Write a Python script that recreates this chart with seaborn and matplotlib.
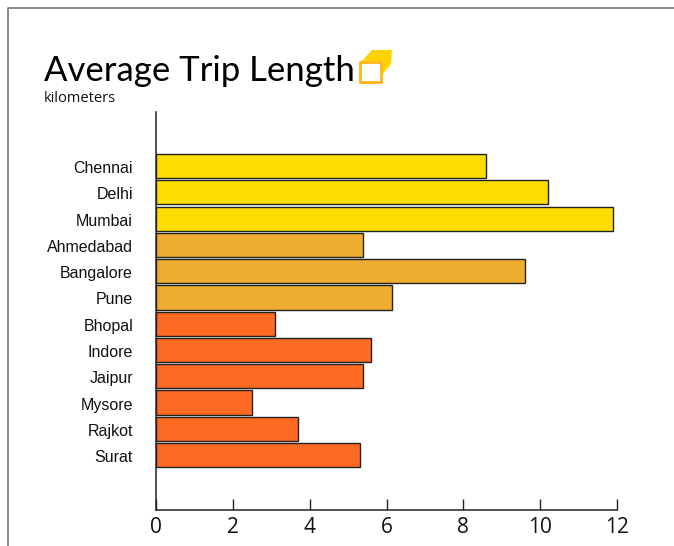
"""Average trip length by city, horizontal bars grouped by city tier."""

import matplotlib.pyplot as plt
import pandas as pd
import seaborn as sns
from matplotlib.patches import Polygon, Rectangle
from matplotlib.transforms import ScaledTranslation

cities = ["Chennai", "Delhi", "Mumbai", "Ahmedabad", "Bangalore", "Pune",
          "Bhopal", "Indore", "Jaipur", "Mysore", "Rajkot", "Surat"]
trip_km = [8.6, 10.2, 11.9, 5.4, 9.6, 6.15, 3.1, 5.6, 5.4, 2.5, 3.7, 5.3]
tiers = ["a", "a", "a", "b", "b", "b", "c", "c", "c", "c", "c", "c"]
tier_colors = {"a": "#FFDD00", "b": "#EEAD2F", "c": "#FF6A22"}
x_ticks = [0, 2, 4, 6, 8, 10, 12]

W, H = 674, 546

sns.set_theme(style="white")
plt.rcParams["font.family"] = ["Open Sans", "DejaVu Sans"]

df = pd.DataFrame({"city": cities, "km": trip_km, "tier": tiers})

fig = plt.figure(figsize=(W / 100, H / 100), dpi=100)
# axes box in pixels: x 156-617, y 112-510
ax = fig.add_axes([156 / W, 1 - 510 / H, (617 - 156) / W, (510 - 112) / H])

sns.barplot(data=df, y="city", x="km", hue="tier", palette=tier_colors, dodge=False,
            saturation=1, width=0.92, edgecolor="#222222", linewidth=1.0, legend=False, ax=ax)

ax.set_xlim(0, 12)
ax.set_ylim(13.09, -2.06)
ax.set_xticks(x_ticks)
ax.set_xlabel("")
ax.set_ylabel("")
sns.despine(ax=ax)
for side in ["left", "bottom"]:
    ax.spines[side].set_color("#222222")
    ax.spines[side].set_linewidth(1.1)
ax.tick_params(axis="x", direction="in", length=8, width=1.0, color="#222222",
               labelsize=15, labelcolor="#111111", pad=5, bottom=True)
ax.tick_params(axis="y", length=0, pad=16.5)
# city names sit a little below the bar centres in the original
nudge = ScaledTranslation(0, -1 / 100, fig.dpi_scale_trans)
for label in ax.get_yticklabels():
    label.set_fontfamily("Liberation Sans")
    label.set_fontsize(11.5)
    label.set_color("#111111")
    label.set_transform(label.get_transform() + nudge)

fig.text(44 / W, 1 - 81 / H, "Average Trip Length", fontsize=25, color="#000000",
         family=["Lato", "DejaVu Sans"], va="baseline")
fig.text(44 / W, 1 - 102 / H, "kilometers", fontsize=10.5, color="#111111", va="baseline")

# page frame, top and left only
fig.add_artist(plt.Line2D([8 / W, 8 / W, 1], [0, 1 - 8 / H, 1 - 8 / H],
                          color="#777777", linewidth=1.2, transform=fig.transFigure))


def px(points):
    return [(x / W, 1 - y / H) for x, y in points]


# logo next to the title
fig.add_artist(Polygon(px([(372, 50), (392, 50), (391, 64), (383, 74), (383, 61), (362, 61)]),
                       closed=True, facecolor="#FFD200", edgecolor="none",
                       transform=fig.transFigure))
fig.add_artist(Rectangle((360.5 / W, 1 - 82 / H), 20.5 / W, 20 / H, facecolor="white",
                         edgecolor="#FDB515", linewidth=2, transform=fig.transFigure))

fig.savefig("out.png", dpi=100)
plt.close(fig)
